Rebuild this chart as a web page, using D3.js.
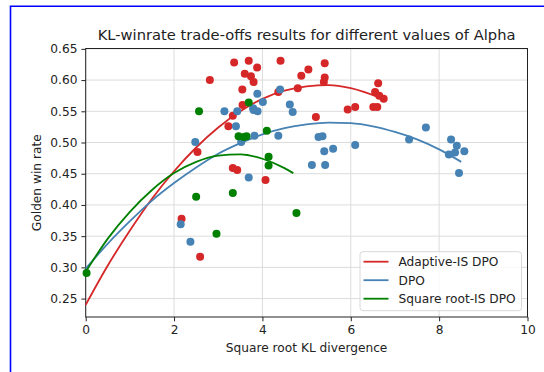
<!DOCTYPE html>
<html>
<head>
<meta charset="utf-8">
<script src="https://cdn.jsdelivr.net/npm/d3@7"></script>
<style>
  body { margin: 0; background: #fff; }
  svg { display: block; font-family: "DejaVu Sans", sans-serif; }
</style>
</head>
<body>
<div id="chart"></div>
<script>
// scatter points [sqrt KL, golden win rate]
const adaptivePoints = [
  [3.36, 0.628], [3.69, 0.631], [4.41, 0.631], [3.88, 0.620], [5.41, 0.627],
  [2.81, 0.600], [3.60, 0.610], [3.74, 0.606], [3.80, 0.597], [5.04, 0.617],
  [4.88, 0.607], [5.41, 0.604], [5.39, 0.597], [3.545, 0.585], [4.80, 0.587],
  [4.36, 0.581], [6.62, 0.595], [6.55, 0.581], [6.645, 0.575], [6.745, 0.570],
  [3.55, 0.560], [5.93, 0.553], [6.10, 0.557], [6.51, 0.557], [6.60, 0.557],
  [5.21, 0.541], [3.33, 0.543], [3.23, 0.526], [2.53, 0.485], [3.33, 0.459],
  [3.43, 0.456], [4.07, 0.440], [2.17, 0.378], [2.59, 0.317]
];
const dpoPoints = [
  [3.885, 0.578], [4.40, 0.585], [3.14, 0.550], [3.43, 0.550], [3.79, 0.555],
  [3.89, 0.550], [3.80, 0.552], [4.01, 0.565], [3.40, 0.526], [2.48, 0.501],
  [3.52, 0.501], [3.82, 0.511], [4.36, 0.511], [3.69, 0.444], [2.15, 0.369],
  [2.37, 0.341], [4.62, 0.561], [4.685, 0.549], [5.27, 0.509], [5.36, 0.510],
  [5.40, 0.486], [5.60, 0.490], [5.12, 0.464], [5.42, 0.464], [6.10, 0.496],
  [7.32, 0.505], [7.70, 0.524], [8.27, 0.505], [8.40, 0.495], [8.36, 0.484],
  [8.22, 0.481], [8.57, 0.486], [8.45, 0.451]
];
const sqrtPoints = [
  [0.02, 0.291], [2.565, 0.550], [3.69, 0.564], [4.10, 0.519], [3.46, 0.510],
  [3.58, 0.509], [3.64, 0.510], [4.14, 0.477], [4.14, 0.463], [2.50, 0.413],
  [3.33, 0.419], [2.96, 0.354], [4.77, 0.387]
];

// fitted curves, sampled by eye along each line
const adaptiveFit = [
  [0, 0.240], [0.5, 0.303], [1, 0.359], [1.5, 0.410], [2, 0.454], [2.5, 0.492],
  [3, 0.524], [3.5, 0.550], [4, 0.570], [4.5, 0.583], [5, 0.590], [5.5, 0.592],
  [6, 0.587], [6.65, 0.572]
];
const dpoFit = [
  [0, 0.298], [0.5, 0.338], [1, 0.374], [1.5, 0.407], [2, 0.435], [2.5, 0.460],
  [3, 0.482], [3.5, 0.499], [4, 0.513], [4.5, 0.523], [5, 0.529], [5.5, 0.532],
  [6, 0.531], [6.5, 0.526], [7, 0.517], [7.5, 0.505], [8, 0.489], [8.5, 0.469]
];
const sqrtFit = [
  [0, 0.293], [0.5, 0.346], [1, 0.389], [1.5, 0.424], [2, 0.451], [2.5, 0.469],
  [3, 0.479], [3.5, 0.481], [4, 0.474], [4.5, 0.459], [4.7, 0.451]
];

const seriesNames = ["Adaptive-IS DPO", "DPO", "Square root-IS DPO"];
const seriesColors = ["#d62728", "steelblue", "green"];
const xTicks = [0, 2, 4, 6, 8, 10];
const yTicks = [0.25, 0.30, 0.35, 0.40, 0.45, 0.50, 0.55, 0.60, 0.65];

const W = 544, H = 372;
const margin = {top: 48.5, right: 16.5, bottom: 55, left: 85.7};
const width = W - margin.left - margin.right,
      height = H - margin.top - margin.bottom;

const root = d3.select("#chart").append("svg")
  .attr("width", W).attr("height", H);

// blue frame around the figure
root.append("path")
  .attr("d", "M10.5," + H + "V6.3H" + W)
  .attr("fill", "none").attr("stroke", "#0000ff").attr("stroke-width", 1.6);

const svg = root.append("g")
  .attr("transform", "translate(" + margin.left + "," + margin.top + ")");

const x = d3.scaleLinear().domain([0, 10]).range([0, width]);
const y = d3.scaleLinear().domain([0.2205, 0.6506]).range([height, 0]);

// grid
svg.append("g").selectAll("line").data(xTicks).join("line")
  .attr("x1", d => x(d)).attr("x2", d => x(d))
  .attr("y1", 0).attr("y2", height)
  .attr("stroke", "#dcdcdc").attr("stroke-width", 1);
svg.append("g").selectAll("line").data(yTicks).join("line")
  .attr("x1", 0).attr("x2", width)
  .attr("y1", d => y(d)).attr("y2", d => y(d))
  .attr("stroke", "#dcdcdc").attr("stroke-width", 1);

// axes
const xAxis = svg.append("g")
  .attr("transform", "translate(0," + height + ")")
  .call(d3.axisBottom(x).tickValues(xTicks).tickFormat(d3.format("d")).tickSize(4.3).tickPadding(4));
const yAxis = svg.append("g")
  .call(d3.axisLeft(y).tickValues(yTicks).tickFormat(d3.format(".2f")).tickSize(4.3).tickPadding(4));
[xAxis, yAxis].forEach(a => {
  a.select(".domain").remove();
  a.selectAll("text").attr("font-size", 12.2).attr("fill", "#222")
    .attr("font-family", "DejaVu Sans");
  a.selectAll("line").attr("stroke", "#222").attr("stroke-width", 1);
});

// spines
svg.append("rect")
  .attr("width", width).attr("height", height)
  .attr("fill", "none").attr("stroke", "#222").attr("stroke-width", 1);

const line = d3.line()
  .x(d => x(d[0]))
  .y(d => y(d[1]))
  .curve(d3.curveMonotoneX);

const pointSets = [adaptivePoints, dpoPoints, sqrtPoints];
const fitSets = [adaptiveFit, dpoFit, sqrtFit];

pointSets.forEach((pts, i) => {
  svg.append("g").selectAll("circle").data(pts).join("circle")
    .attr("cx", d => x(d[0]))
    .attr("cy", d => y(d[1]))
    .attr("r", 4)
    .attr("fill", seriesColors[i]);
  svg.append("path")
    .datum(fitSets[i])
    .attr("fill", "none")
    .attr("stroke", seriesColors[i])
    .attr("stroke-width", 1.8)
    .attr("d", line);
});

// title and axis labels
root.append("text")
  .attr("x", margin.left + width / 2).attr("y", 40)
  .attr("text-anchor", "middle").attr("font-size", 14.7).attr("fill", "#222")
  .text("KL-winrate trade-offs results for different values of Alpha");
root.append("text")
  .attr("x", margin.left + width / 2).attr("y", 352)
  .attr("text-anchor", "middle").attr("font-size", 12.2).attr("fill", "#222")
  .text("Square root KL divergence");
root.append("text")
  .attr("transform", "translate(41.3," + (margin.top + height / 2) + ") rotate(-90)")
  .attr("text-anchor", "middle").attr("font-size", 12.2).attr("fill", "#222")
  .text("Golden win rate");

// legend
const legend = root.append("g").attr("transform", "translate(360,251.7)");
legend.append("rect")
  .attr("width", 161.5).attr("height", 59)
  .attr("rx", 3).attr("fill", "#fff").attr("fill-opacity", 0.8)
  .attr("stroke", "#d8d8d8").attr("stroke-width", 1);
seriesNames.forEach((name, i) => {
  const cy = 10 + i * 18.5;
  legend.append("line")
    .attr("x1", 3.5).attr("x2", 28.5).attr("y1", cy).attr("y2", cy)
    .attr("stroke", seriesColors[i]).attr("stroke-width", 1.8);
  legend.append("text")
    .attr("x", 38.5).attr("y", cy).attr("dy", "0.36em")
    .attr("font-size", 12.2).attr("fill", "#222")
    .text(name);
});
</script>
</body>
</html>
